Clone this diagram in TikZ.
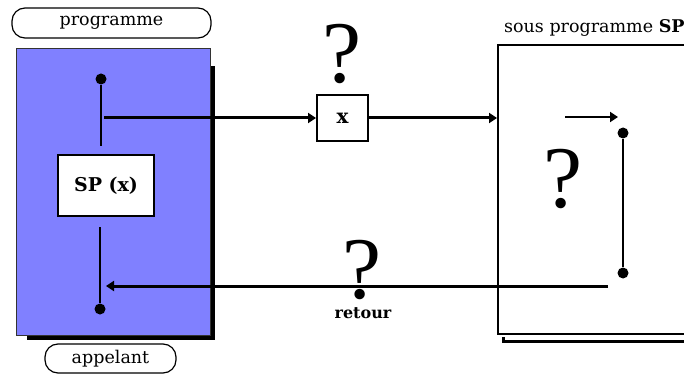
\documentclass[tikz,border=0pt]{standalone}
\usepackage{fontspec}
\setmainfont{DejaVu Serif}
\newfontfamily\qfont{Liberation Serif}
\usetikzlibrary{arrows.meta}
\definecolor{callblue}{RGB}{128,128,255}
\begin{document}
\begin{tikzpicture}[x=1pt,y=-1pt,
  lbl/.style={draw, line width=1.2pt, rounded corners=13pt, minimum height=30pt, inner sep=0pt, font=\fontsize{17.5}{20}\selectfont},
  box/.style={draw, line width=2pt, fill=white, inner sep=0pt},
  dotn/.style={circle, fill=black, inner sep=0pt, minimum size=11pt},
  arr/.style={line width=3pt, -{Triangle[length=8pt,width=10pt]}},
  ln/.style={line width=2pt},
  qm/.style={font=\qfont\fontsize{88}{88}\selectfont, inner sep=0pt, anchor=base}
]
\useasboundingbox (0,0) rectangle (684,374);
\clip (0,0) rectangle (684,374);
% calling program
\node[fill=black, minimum width=188pt, minimum height=274pt, inner sep=0pt] (callshadow) at (121,203) {};
\node[draw=black!80, line width=1pt, fill=callblue, minimum width=194pt, minimum height=286pt, inner sep=0pt] (caller) at (113,192) {};
\node[lbl, minimum width=199pt] (prog) at (111.5,23) {programme};
\node[lbl, minimum width=131pt, minimum height=29pt] (app) at (110.5,358.5) {appelant};
\node[box, minimum width=96pt, minimum height=61pt, font=\bfseries\fontsize{19}{22}\selectfont] (sp) at (106,185.5) {SP (x)};
\node[dotn] (d1) at (101,79) {};
\node[dotn] (d2) at (100,309) {};
\coordinate (a1) at (101,146);
\coordinate (a2) at (100,227);
\draw[ln] (d1) -- (a1);
\draw[ln] (a2) -- (d2);
% sub program
\draw[line width=3pt] (503,337) -- (503,341.5) -- (710,341.5);
\node[box, minimum width=212pt, minimum height=289pt] (sub) at (604,189.5) {};
\node[anchor=base west, inner sep=0pt, font=\fontsize{17.5}{20}\selectfont] (subtitle) at (504,33) {sous programme \textbf{SP}};
% parameter box
\node[box, minimum width=51pt, minimum height=46pt, font=\bfseries\fontsize{20}{22}\selectfont] (xb) at (342.5,118) {x};
\coordinate (t0) at (104,118);
\draw[arr] (t0) -- (xb.west);
\draw[arr] (xb.east) -- (xb.east -| sub.west);
\node[qm] (q1) at (342,83) {?};
% inside sub program
\coordinate (s0) at (565,117);
\coordinate (s1) at (618,117);
\draw[arr, line width=2.5pt] (s0) -- (s1);
\node[dotn] (d3) at (623,133) {};
\node[dotn] (d4) at (623,273) {};
\draw[ln] (d3) -- (d4);
\node[qm] (q2) at (563,207) {?};
% return
\node[qm] (q3) at (362,298) {?};
\coordinate (r0) at (608,286);
\coordinate (r1) at (106,286);
\draw[arr] (r0) -- (r1);
\node[anchor=base, inner sep=0pt, font=\bfseries\fontsize{16}{18}\selectfont] (ret) at (363,318) {retour};
\end{tikzpicture}
\end{document}
